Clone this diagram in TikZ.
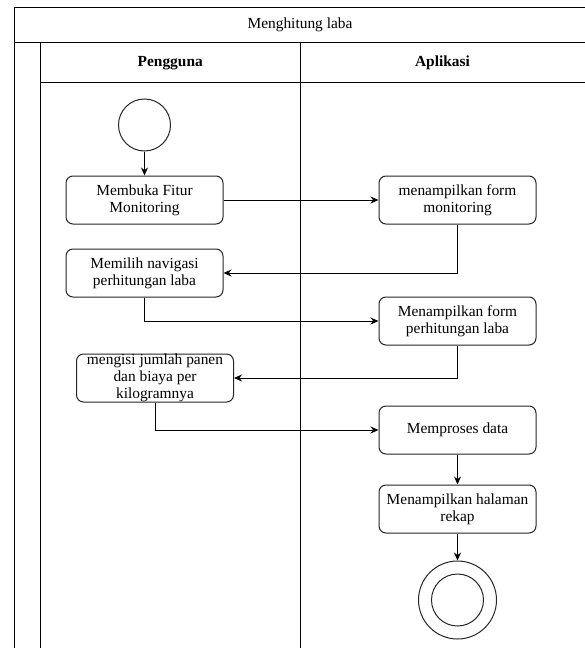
\documentclass[tikz,border=0pt]{standalone}
\usepackage{fontspec}
\setmainfont{Liberation Serif}
\newfontfamily\diagramfont{Liberation Serif}
\usepackage{tikz}
\usetikzlibrary{arrows.meta,positioning}

\begin{document}
\begin{tikzpicture}[
  x=1pt, y=1pt,
  font=\diagramfont\fontsize{15.4}{17}\selectfont,
  lane/.style={line width=1pt, black},
  act/.style={draw=black!85, line width=1pt, rounded corners=7pt, fill=white,
              minimum width=157pt, minimum height=48pt, align=center,
              inner xsep=2pt, inner ysep=0pt},
  initial/.style={draw=black!85, line width=1pt, circle, minimum size=52pt, inner sep=0pt},
  final/.style={draw=black!85, line width=1pt, circle, minimum size=78pt, inner sep=0pt},
  arr/.style={-{Stealth[length=8pt,width=7pt]}, line width=1pt}
]
\useasboundingbox (0,0) rectangle (585,-648);
% --- swimlane frame ---
\draw[lane] (585,-7) -- (14.5,-7) -- (14.5,-648);
\draw[lane] (14.5,-42.5) -- (585,-42.5);
\draw[lane] (40.5,-42.5) -- (40.5,-648);
\draw[lane] (40.5,-82.5) -- (585,-82.5);
\draw[lane] (300,-42.5) -- (300,-648);
\node (judul) at (300,-25) {Menghitung laba};
\node (pengguna) at (170.25,-63) {\textbf{Pengguna}};
\node (aplikasi) at (442.5,-63) {\textbf{Aplikasi}};
% --- lane pengguna ---
\node[initial] (mulai) at (144.5,-125) {};
\node[act, below=24pt of mulai] (fitur) {Membuka Fitur\\Monitoring};
\node[act, below=24pt of fitur] (navigasi) {Memilih navigasi\\perhitungan laba};
\node[act] (isi) at (155,-378) {mengisi jumlah panen\\dan biaya per\\kilogramnya};
% --- lane aplikasi ---
\node[act, right=155pt of fitur] (formmon) {menampilkan form\\monitoring};
\node[act, below=72pt of formmon] (formlaba) {Menampilkan form\\perhitungan laba};
\node[act, below=60pt of formlaba] (proses) {Memproses data};
\node[act, below=30pt of proses] (rekap) {Menampilkan halaman\\rekap};
\node[final, below=27pt of rekap] (selesai) {};
\node[initial] at (selesai.center) (selesaiin) {};
% --- arrows ---
\draw[arr] (mulai) -- (fitur);
\draw[arr] (fitur) -- (formmon);
\draw[arr] (formmon.south) |- (navigasi.east);
\draw[arr] (navigasi.south) |- (formlaba.west);
\draw[arr] (formlaba.south) |- (isi.east);
\draw[arr] (isi.south) |- (proses.west);
\draw[arr] (proses) -- (rekap);
\draw[arr] (rekap) -- (selesai);
\end{tikzpicture}
\end{document}
